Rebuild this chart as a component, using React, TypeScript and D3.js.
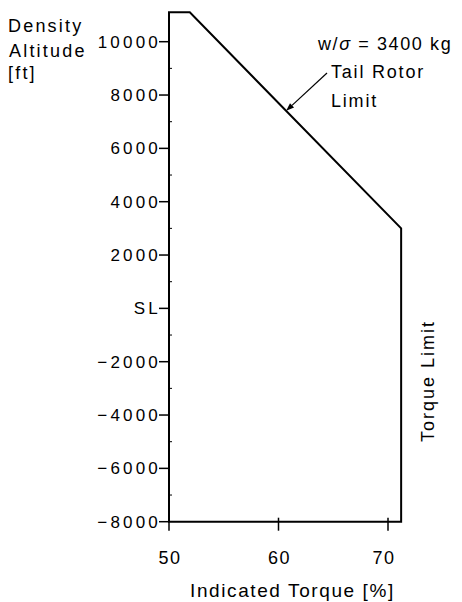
import React from "react";
import * as d3 from "d3";

const altitudeTicks = [-8000, -6000, -4000, -2000, 0, 2000, 4000, 6000, 8000, 10000];
const altitudeTickLabels = ["−8000", "−6000", "−4000", "−2000", "SL", "2000", "4000", "6000", "8000", "10000"];
const minorAltitudeTicks = [-7000, -5000, -3000, -1000, 1000, 3000, 5000, 7000, 9000];
const torqueTicks = [50, 60, 70];
const torqueTickLabels = ["50", "60", "70"];
const envelopeTorque = [50, 51.9, 71.2, 71.2, 50];
const envelopeAltitude = [11100, 11100, 3000, -8000, -8000];

const W = 462;
const H = 602;

export default function App() {
  const x = d3.scaleLinear().domain([50, 70]).range([169, 388]);
  const y = d3.scaleLinear().domain([-8000, 10000]).range([521.7, 41.7]);
  const pts: [number, number][] = envelopeTorque.map((t, i) => [t, envelopeAltitude[i]]);
  const line = d3
    .line<[number, number]>()
    .x((d) => x(d[0]))
    .y((d) => y(d[1]));
  const envPath = line(pts) + "Z";
  const font = "'Liberation Sans', Arial, sans-serif";
  const axisX = x(50);
  const axisY = y(-8000);
  // arrow for Tail Rotor Limit: tip on the tail rotor limit line
  const tipT = 60.7;
  const tipA = 11100 - ((tipT - 51.9) / (71.2 - 51.9)) * 8100;
  const arrowTip: [number, number] = [x(tipT), y(tipA)];
  const arrowStart: [number, number] = [327, 73];
  const ang = Math.atan2(arrowTip[1] - arrowStart[1], arrowTip[0] - arrowStart[0]);
  const ah = 8;
  const aw = 3;
  const bx = arrowTip[0] - ah * Math.cos(ang);
  const by = arrowTip[1] - ah * Math.sin(ang);
  const head = `M${arrowTip[0]},${arrowTip[1]}L${bx + aw * Math.sin(ang)},${by - aw * Math.cos(ang)}L${bx - aw * Math.sin(ang)},${by + aw * Math.cos(ang)}Z`;

  return (
    <svg
      width={W}
      height={H}
      style={{ position: "absolute", left: 0, top: 0, background: "#fff" }}
      fontFamily={font}
    >
      <rect x={0} y={0} width={W} height={H} fill="#fff" />
      {/* envelope */}
      <path d={envPath} fill="none" stroke="#000" strokeWidth={2} strokeLinejoin="miter" />
      {/* y axis ticks */}
      {altitudeTicks.map((v, i) => (
        <g key={"yt" + v}>
          <line x1={axisX - 10} x2={axisX} y1={y(v)} y2={y(v)} stroke="#000" strokeWidth={1.5} />
          <text
            x={axisX - 8}
            y={y(v)}
            dy="0.36em"
            textAnchor="end"
            fontSize={17}
            letterSpacing={3.2}
            fill="#000"
          >
            {altitudeTickLabels[i]}
          </text>
        </g>
      ))}
      {minorAltitudeTicks.map((v) => (
        <line key={"ym" + v} x1={axisX} x2={axisX + 3} y1={y(v)} y2={y(v)} stroke="#000" strokeWidth={1} />
      ))}
      {/* x axis ticks */}
      {torqueTicks.map((v, i) => (
        <g key={"xt" + v}>
          <line x1={x(v)} x2={x(v)} y1={axisY - (v === 50 ? 0 : 4)} y2={axisY + 9} stroke="#000" strokeWidth={1.5} />
          <text x={x(v) + (v === 70 ? -4 : 1)} y={563.5} textAnchor="middle" fontSize={18} letterSpacing={1.5} fill="#000">
            {torqueTickLabels[i]}
          </text>
        </g>
      ))}
      {/* axis titles */}
      <text x={8} y={32.3} fontSize={18} letterSpacing={2.2} fill="#000">Density</text>
      <text x={9} y={56.7} fontSize={18} letterSpacing={2.2} fill="#000">Altitude</text>
      <text x={8} y={78.5} fontSize={18} letterSpacing={2.2} fill="#000">[ft]</text>
      <text x={190} y={596.5} fontSize={19} letterSpacing={1.6} fill="#000">
        Indicated Torque [%]
      </text>
      {/* annotations */}
      <text x={318} y={50} fontSize={18} letterSpacing={1.6} fill="#000">
        w/<tspan fontStyle="italic">σ</tspan> = 3400 kg
      </text>
      <text x={331} y={78.3} fontSize={18} letterSpacing={1.8} fill="#000">Tail Rotor</text>
      <text x={331} y={106.7} fontSize={18} letterSpacing={1.8} fill="#000">Limit</text>
      <line x1={arrowStart[0]} y1={arrowStart[1]} x2={bx} y2={by} stroke="#000" strokeWidth={1.2} />
      <path d={head} fill="#000" />
      <text
        transform={`translate(434,381) rotate(-90)`}
        textAnchor="middle"
        fontSize={18}
        letterSpacing={2}
        fill="#000"
      >
        Torque Limit
      </text>
    </svg>
  );
}
